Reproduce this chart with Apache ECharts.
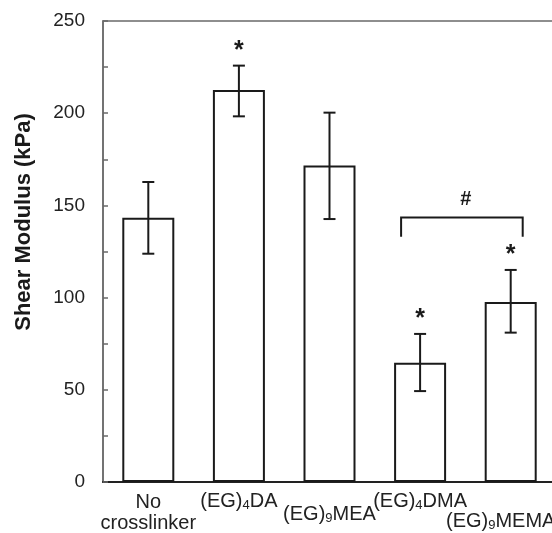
<!DOCTYPE html>
<html>
<head>
<meta charset="utf-8">
<script src="https://cdn.jsdelivr.net/npm/echarts@6/dist/echarts.min.js"></script>
<style>
  html, body { margin: 0; padding: 0; background: #fff; }
  #chart { width: 552px; height: 533px; }
</style>
</head>
<body>
<div id="chart"></div>
<script>
// categories (rich markup gives the subscripts)
const categories = ["No crosslinker", "(EG)4DA", "(EG)9MEA", "(EG)4DMA", "(EG)9MEMA"];
const categoryLabels = [
  "{t|No}\n{t|crosslinker}",
  "{t|(EG)}{s|4}{t|DA}",
  "{t|(EG)}{s|9}{t|MEA}",
  "{t|(EG)}{s|4}{t|DMA}",
  "{t|(EG)}{s|9}{t|MEMA}"
];
// shear modulus, kPa
const modulus = [143.3, 212.6, 171.7, 64.7, 97.6];
const errLow = [123.8, 198.3, 142.6, 49.3, 81.0];
const errHigh = [162.7, 225.8, 200.3, 80.3, 115.0];
// * = significant vs no crosslinker
const significant = [0, 1, 0, 1, 1];
// # bracket between (EG)4DMA and (EG)9MEMA
const bracket = [[3, 4, 143.5, 133]];
const yTicks = [0, 50, 100, 150, 200, 250];

const font = "'Liberation Sans', Arial, Helvetica, sans-serif";
// label padding per category (px) so the names stagger like the original
const labelPad = [[1, 0, 0, 0], [0, 0, 0, 0], [13, 0, 0, 0], [0, 0, 0, 0], [20, 20, 0, 0]];

const chart = echarts.init(document.getElementById("chart"));

const option = {
  animation: false,
  grid: {
    left: 103,
    top: 21,
    width: 453,
    height: 461,
    outerBoundsMode: "none",
    containLabel: false,
    show: true,
    borderColor: "#6a6a6a",
    borderWidth: 1.5
  },
  xAxis: {
    type: "category",
    data: categories.map((c, i) => ({
      value: c,
      textStyle: { padding: labelPad[i] }
    })),
    axisLine: { lineStyle: { color: "#222", width: 2 } },
    axisTick: { show: false },
    axisLabel: {
      interval: 0,
      margin: 9,
      color: "#222",
      hideOverlap: false,
      formatter: (v, i) => categoryLabels[i],
      rich: {
        t: { fontSize: 20, fontFamily: font, color: "#222", lineHeight: 21 },
        s: { fontSize: 13, fontFamily: font, color: "#222", lineHeight: 8, verticalAlign: "bottom" }
      }
    }
  },
  yAxis: {
    type: "value",
    min: yTicks[0],
    max: yTicks[yTicks.length - 1],
    interval: 50,
    axisLine: { show: true, lineStyle: { color: "#6a6a6a", width: 1.5 } },
    axisTick: { show: true, inside: true, length: 5, lineStyle: { color: "#6a6a6a", width: 1.5 } },
    minorTick: { show: true, splitNumber: 2, length: 5, lineStyle: { color: "#6a6a6a", width: 1.5 } },
    splitLine: { show: false },
    axisLabel: { margin: 18, fontSize: 19, fontFamily: font, color: "#222" }
  },
  graphic: [
    {
      type: "text",
      x: 24,
      y: 222,
      rotation: Math.PI / 2,
      style: {
        text: "Shear Modulus (kPa)",
        font: "bold 22px " + font,
        fill: "#1a1a1a",
        align: "center",
        verticalAlign: "middle"
      }
    }
  ],
  series: [
    {
      type: "bar",
      data: modulus,
      barWidth: 52,
      z: 2,
      itemStyle: { color: "#fff", borderColor: "#1a1a1a", borderWidth: 2 }
    },
    {
      type: "custom",
      clip: false,
      z: 5,
      data: categories.map((c, i) => [i, errLow[i], errHigh[i], significant[i]]),
      renderItem: (params, api) => {
        const x = api.value(0);
        const lo = api.coord([x, api.value(1)]);
        const hi = api.coord([x, api.value(2)]);
        const half = 6;
        const style = { stroke: "#1a1a1a", lineWidth: 2 };
        const children = [
          { type: "line", shape: { x1: hi[0], y1: hi[1], x2: lo[0], y2: lo[1] }, style },
          { type: "line", shape: { x1: hi[0] - half, y1: hi[1], x2: hi[0] + half, y2: hi[1] }, style },
          { type: "line", shape: { x1: lo[0] - half, y1: lo[1], x2: lo[0] + half, y2: lo[1] }, style }
        ];
        if (api.value(3)) {
          children.push({
            type: "text",
            style: {
              text: "*",
              x: hi[0],
              y: hi[1] - 2,
              align: "center",
              verticalAlign: "bottom",
              font: "bold 25px " + font,
              fill: "#1a1a1a"
            }
          });
        }
        return { type: "group", children };
      }
    },
    {
      type: "custom",
      clip: false,
      z: 5,
      data: bracket,
      renderItem: (params, api) => {
        const a = api.coord([api.value(0), api.value(2)]);
        const b = api.coord([api.value(1), api.value(2)]);
        const yEnd = api.coord([api.value(0), api.value(3)])[1];
        const xl = a[0] - 19;
        const xr = b[0] + 12;
        const style = { stroke: "#1a1a1a", lineWidth: 2, fill: null };
        return {
          type: "group",
          children: [
            {
              type: "polyline",
              shape: { points: [[xl, yEnd], [xl, a[1]], [xr, a[1]], [xr, yEnd]] },
              style
            },
            {
              type: "text",
              style: {
                text: "#",
                x: (xl + xr) / 2 + 4,
                y: a[1] - 18,
                align: "center",
                verticalAlign: "middle",
                font: "bold 20px " + font,
                fill: "#1a1a1a"
              }
            }
          ]
        };
      }
    }
  ]
};

chart.setOption(option);
</script>
</body>
</html>
